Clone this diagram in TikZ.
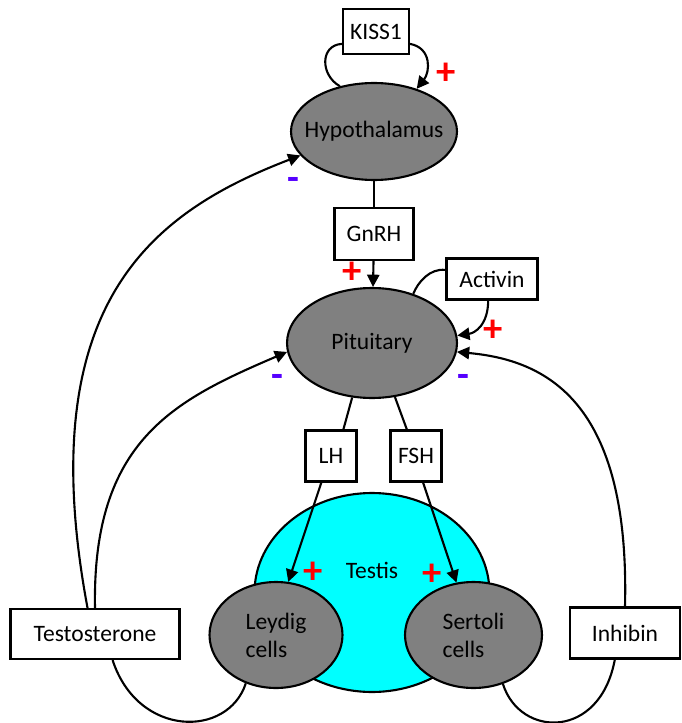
\documentclass[tikz,border=0pt]{standalone}
\usepackage{fontspec}
\setmainfont{Carlito}
\usetikzlibrary{shapes,arrows,arrows.meta}
\definecolor{minuscol}{RGB}{85,0,255}
\definecolor{testiscol}{RGB}{0,255,255}
\tikzstyle{organ}=[draw, ellipse, fill=gray, line width=1.2pt, inner sep=0pt]
\tikzstyle{hormone}=[draw, fill=white, line width=1.2pt, inner sep=0pt]
\tikzstyle{stim}=[text=red, font=\fontsize{22}{22}\selectfont\bfseries, inner sep=0pt]
\tikzstyle{inhib}=[text=minuscol, font=\fontsize{22}{22}\selectfont\bfseries, inner sep=0pt]
\tikzstyle{link}=[line width=1.2pt]

\begin{document}
\begin{tikzpicture}[x=0.02cm,y=-0.02cm,>={Triangle[length=7pt,width=7pt]},font=\fontsize{13.4}{16}\selectfont]
\useasboundingbox (0,0) rectangle (681,723);

\node[organ, minimum width=3.32cm, minimum height=1.94cm, label=center:Hypothalamus] (hypo) at (374,131.5) {};
\node[organ, minimum width=3.4cm, minimum height=2.2cm, label=center:Pituitary] (pit) at (372,343) {};
\node[organ, fill=testiscol, minimum width=4.7cm, minimum height=3.98cm, label={[yshift=0.44cm]center:Testis}] (testis) at (372,592.5) {};
\node[organ, minimum width=2.66cm, minimum height=2.12cm, label={[align=left]center:Leydig\\cells}] (leydig) at (276,635) {};
\node[organ, minimum width=2.74cm, minimum height=2.12cm, label={[align=left]center:Sertoli\\cells}] (sertoli) at (473.5,635) {};

\node[hormone, minimum width=1.32cm, minimum height=0.9cm] (kiss) at (376,31.5) {KISS1};
\node[hormone, minimum width=1.58cm, minimum height=1.04cm] (gnrh) at (374,234) {GnRH};
\node[hormone, minimum width=1.82cm, minimum height=0.82cm] (activin) at (492,279) {Activin};
\node[hormone, minimum width=1.02cm, minimum height=1.02cm] (lh) at (331,456) {LH};
\node[hormone, minimum width=1.02cm, minimum height=1.02cm] (fsh) at (416,456) {FSH};
\node[hormone, minimum width=3.38cm, minimum height=1cm] (testo) at (95,634) {Testosterone};
\node[hormone, minimum width=2.2cm, minimum height=1.02cm] (inhibin) at (625,633) {Inhibin};

\draw[link] (kiss.200) .. controls (320,45) and (320,75) .. (hypo.127);
\draw[link,->] (kiss.-20) .. controls (432,48) and (430,72) .. (hypo.45);
\draw[link] (hypo) -- (gnrh);
\draw[link,->] (gnrh) -- (pit);
\draw[link] (activin.169) .. controls (430,268) and (418,282) .. (pit.50);
\draw[link,->] (activin.260) .. controls (488,325) and (475,333) .. (pit.5);

\draw[link] (pit.250) -- (lh.65);
\draw[link] (pit.293) -- (fsh.109);
\draw[link,->] (lh.250) -- (leydig.77);
\draw[link,->] (fsh.285) -- (sertoli.108);

\draw[link] (leydig.238) .. controls (228,738) and (138,738) .. (testo.304);
\draw[link,->] (testo.106) .. controls (30,300) and (156,211) .. (hypo.198);
\draw[link,->] (testo.north) .. controls (92,440) and (175,400) .. (pit.186);
\draw[link] (sertoli.301) .. controls (520,738) and (600,740) .. (inhibin.249);
\draw[link,->] (inhibin.north) .. controls (630,400) and (545,360) .. (pit.354);

\node[stim] (s1) at (446,74) {+};
\node[stim] (s2) at (352,273) {+};
\node[stim] (s3) at (493,331) {+};
\node[stim] (s4) at (313,573) {+};
\node[stim] (s5) at (432,575) {+};
\node[inhib] (n1) at (293,184) {-};
\node[inhib] (n2) at (277,381) {-};
\node[inhib] (n3) at (463,381) {-};
\end{tikzpicture}
\end{document}
